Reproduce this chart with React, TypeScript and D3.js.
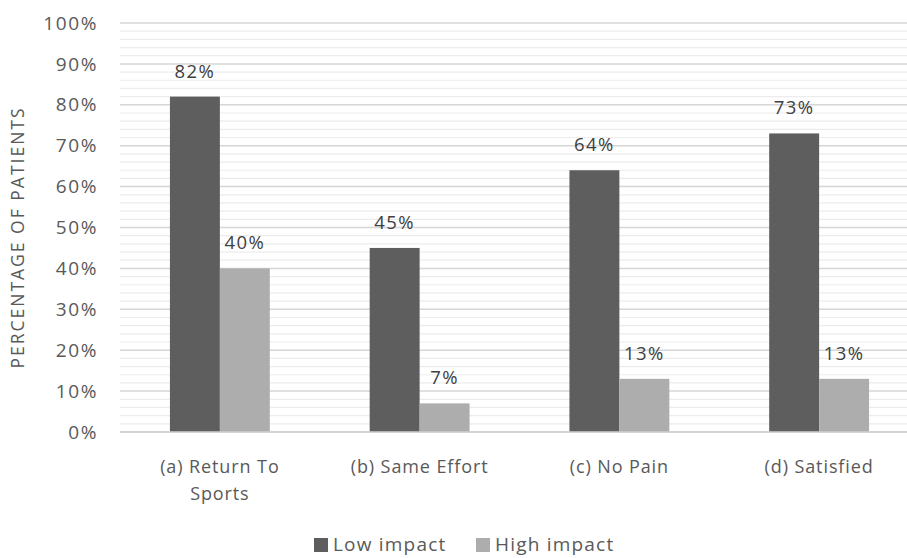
import React from "react";
import * as d3 from "d3";

const categories = [["(a) Return To", "Sports"], ["(b) Same Effort"], ["(c) No Pain"], ["(d) Satisfied"]];
const seriesNames = ["Low impact", "High impact"];
const lowImpact = [82, 45, 64, 73];
const highImpact = [40, 7, 13, 13];
const yTicks = [0, 10, 20, 30, 40, 50, 60, 70, 80, 90, 100];
const colors = ["#5e5e5e", "#adadad"];

const W = 907;
const H = 558;
const FONT = "'Open Sans', sans-serif";

const App = () => {
  const x = d3.scaleBand<number>().domain([0, 1, 2, 3]).range([120, 919]).paddingInner(0).paddingOuter(0);
  const y = d3.scaleLinear().domain([0, 100]).range([432, 23]);
  const minor = d3.range(0, 101, 2);
  const series = [lowImpact, highImpact];
  const barW = x.bandwidth() / 4;

  return (
    <svg width={W} height={H} style={{ position: "absolute", left: 0, top: 0, background: "#fff" }} fontFamily={FONT}>
      {minor.map((m) => (
        <line key={"m" + m} x1={120} x2={W} y1={y(m)} y2={y(m)} stroke={m % 10 === 0 ? "#d6d6d6" : "#ececec"} strokeWidth={m % 10 === 0 ? 1.5 : 1.2} />
      ))}
      {yTicks.map((t) => (
        <text key={"t" + t} x={98} y={y(t)} dy="0.35em" textAnchor="end" fontSize={19} letterSpacing={1.6} fill="#595959">
          {t}%
        </text>
      ))}
      <text transform={`translate(24,${y(50) + 10}) rotate(-90)`} textAnchor="middle" fontSize={17.5} letterSpacing={2} fill="#595959">
        PERCENTAGE OF PATIENTS
      </text>
      {series.map((vals, si) =>
        vals.map((v, i) => {
          const bx = (x(i) as number) + x.bandwidth() / 2 - barW + si * barW;
          return (
            <g key={si + "-" + i}>
              <rect x={bx} y={y(v)} width={barW} height={y(0) - y(v)} fill={colors[si]} />
              <text x={bx + barW / 2} y={y(v) - 19} textAnchor="middle" fontSize={18.5} letterSpacing={1.4} fill="#404040">
                {v}%
              </text>
            </g>
          );
        })
      )}
      <line x1={120} x2={W} y1={y(0)} y2={y(0)} stroke="#d0d0d0" strokeWidth={1.5} />
      {categories.map((lines, i) => (
        <text key={"c" + i} x={(x(i) as number) + x.bandwidth() / 2} y={473} textAnchor="middle" fontSize={18} letterSpacing={0.9} fill="#595959">
          {lines.map((l, li) => (
            <tspan key={li} x={(x(i) as number) + x.bandwidth() / 2} dy={li === 0 ? 0 : 27}>
              {l}
            </tspan>
          ))}
        </text>
      ))}
      {seriesNames.map((n, i) => {
        const lx = i === 0 ? 314 : 476;
        return (
          <g key={n}>
            <rect x={lx} y={538} width={14} height={14} fill={colors[i]} />
            <text x={lx + 19} y={551} fontSize={19} letterSpacing={1.2} fill="#595959">
              {n}
            </text>
          </g>
        );
      })}
    </svg>
  );
};

export default App;
